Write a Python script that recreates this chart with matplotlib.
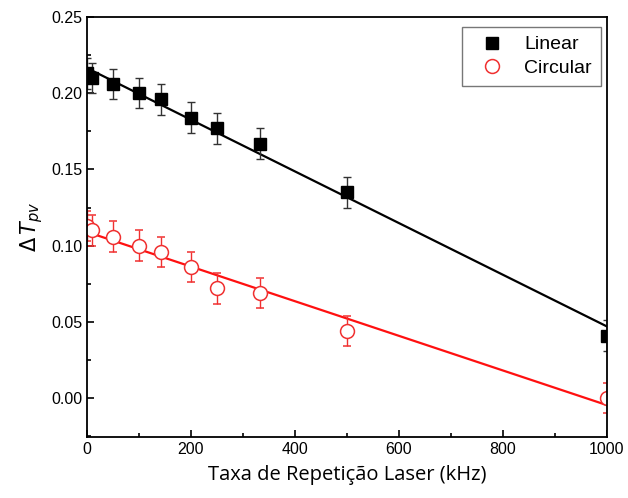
import numpy as np
import matplotlib
matplotlib.use('Agg')
import matplotlib.pyplot as plt
from matplotlib.patches import Rectangle

matplotlib.rcParams['font.family'] = 'Liberation Sans'

# data
rate = [1, 10, 50, 100, 143, 200, 250, 333, 500, 1000]
linear = [0.213, 0.210, 0.206, 0.200, 0.196, 0.184, 0.177, 0.167, 0.135, 0.041]
circular = [0.113, 0.110, 0.106, 0.100, 0.096, 0.086, 0.072, 0.069, 0.044, 0.000]
err = 0.01
# linear fit lines (intercept, slope)
fit_linear = (0.2165, -0.0001695)
fit_circular = (0.109, -0.0001136)

fig = plt.figure(figsize=(6.28, 4.98), dpi=100)
ax1 = fig.add_axes([0.1385, 0.1225, 0.828, 0.8434])

xx = np.array([0, 1000])
ax1.plot(xx, fit_linear[0] + fit_linear[1]*xx, color='black', lw=1.6, zorder=2)
ax1.plot(xx, fit_circular[0] + fit_circular[1]*xx, color='#ff1010', lw=1.6, zorder=2)

ax1.errorbar(rate, linear, yerr=err, fmt='s', color='black', ms=9, capsize=3,
             elinewidth=1, ecolor='#333333', label='Linear', zorder=3)
ax1.errorbar(rate, circular, yerr=err, fmt='o', mfc='white', mec='#f03030', ms=10,
             mew=1.1, capsize=3, elinewidth=1, ecolor='#f03030', label='Circular',
             zorder=3)
# hide the part of the markers that sticks out past the right spine
ax1.add_patch(Rectangle((1.0, 0.0), 0.05, 1.0, transform=ax1.transAxes,
                        facecolor='white', edgecolor='none', clip_on=False, zorder=4))

ax1.set_xlim(0, 1000)
ax1.set_ylim(-0.0255, 0.25)
ax1.set_xticks([0, 200, 400, 600, 800, 1000])
ax1.set_yticks([0.00, 0.05, 0.10, 0.15, 0.20, 0.25])
ax1.set_yticklabels(['0.00', '0.05', '0.10', '0.15', '0.20', '0.25'])
ax1.set_xticks([100, 300, 500, 700, 900], minor=True)
ax1.set_yticks([-0.025, 0.025, 0.075, 0.125, 0.175, 0.225], minor=True)
ax1.tick_params(which='both', direction='in', labelsize=11.5, width=1.2)
ax1.tick_params(which='major', length=5)
ax1.tick_params(which='minor', length=3)
for s in ax1.spines.values():
    s.set_linewidth(1.3)
    s.set_zorder(5)

ax1.set_xlabel('Taxa de Repetição Laser (kHz)', fontsize=14.5, family='Open Sans', labelpad=6)
ax1.set_ylabel(r'$\Delta\,T_{pv}$', fontsize=15)

h, l = ax1.get_legend_handles_labels()
h = [x[0] for x in h]
leg = ax1.legend(h, l, loc='upper right', fontsize=14, fancybox=False, edgecolor='#555555',
                 borderpad=0.45, handletextpad=0.55, labelspacing=0.3, handlelength=2.2,
                 borderaxespad=0, bbox_to_anchor=(0.988, 0.976))
leg.get_frame().set_linewidth(1)
leg.set_zorder(6)

plt.savefig('out.png', dpi=100)
